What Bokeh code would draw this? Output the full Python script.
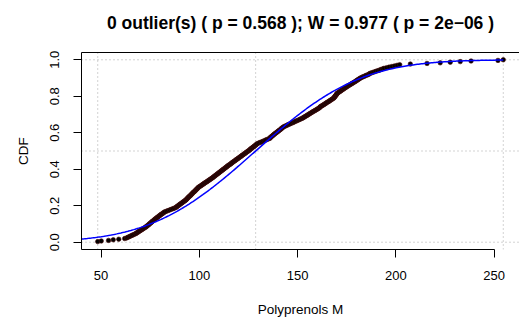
import numpy as np
from math import erf, sqrt
from bokeh.plotting import figure
from bokeh.models import LinearAxis, Span, FixedTicker, PrintfTickFormatter, Range1d
from bokeh.embed import file_html
from bokeh.resources import INLINE

# Polyprenols M sample values (read from the ECDF, sorted)
polyprenols_m = [
    48.3, 50.1, 53.8, 56.2, 59.0, 62.0,
    63.0, 63.6, 64.3, 64.9, 65.6, 66.2, 66.9, 67.6,
    68.0, 68.5, 69.0, 69.4, 69.9, 70.4, 70.9, 71.3, 71.8, 72.3, 72.8,
    73.1, 73.5, 73.9, 74.3, 74.6, 75.0, 75.3, 75.7, 76.0, 76.4, 76.8, 77.1, 77.5, 77.9,
    78.3, 78.7, 79.1, 79.5, 79.9, 80.3, 80.7, 81.2, 81.6, 82.0, 82.5,
    83.3, 84.1, 84.9, 85.7, 86.5, 87.2, 88.0,
    88.4, 88.8, 89.2, 89.6, 90.0, 90.4, 90.9, 91.3, 91.7, 92.1, 92.6, 93.0,
    93.3, 93.6, 93.9, 94.2, 94.5, 94.8, 95.2, 95.5, 95.8, 96.1, 96.4, 96.7, 97.0, 97.3,
    97.7, 98.0, 98.3, 98.6, 98.9, 99.2, 99.5,
    99.9, 100.4, 100.8, 101.3, 101.7, 102.2, 102.6, 103.1, 103.6, 104.0, 104.5, 104.9,
    105.4, 105.8, 106.3, 106.7, 107.1, 107.5,
    107.9, 108.3, 108.7, 109.1, 109.5, 109.9, 110.3, 110.7, 111.1, 111.5, 111.9, 112.3,
    112.7, 113.1, 113.5, 113.9, 114.3, 114.7, 115.1, 115.6, 116.0,
    116.4, 116.8, 117.2, 117.7, 118.1, 118.5, 118.9, 119.4, 119.8, 120.2, 120.6, 121.1,
    121.5, 121.9, 122.3, 122.8, 123.2, 123.6, 124.0, 124.5,
    124.9, 125.3, 125.7, 126.0, 126.4, 126.8, 127.2, 127.6, 128.0, 128.4, 128.8, 129.1, 129.5,
    130.2, 130.9, 131.6, 132.4, 133.1, 133.8, 134.5, 135.3, 136.0,
    136.1, 136.4, 136.8, 137.2, 137.6, 137.9, 138.3, 138.7, 139.1, 139.5, 139.9, 140.3,
    140.7, 141.1, 141.5, 141.8, 142.2, 142.6, 143.0,
    143.7, 144.4, 145.0, 145.7, 146.4, 147.1, 147.8, 148.4, 149.1, 149.8, 150.5, 151.1, 151.8, 152.5,
    153.0, 153.5, 154.0, 154.5, 155.0, 155.5, 156.0, 156.5, 157.0, 157.5, 158.0, 158.6,
    159.1, 159.6, 160.1, 160.6, 161.1, 161.4, 161.7,
    162.2, 162.7, 163.2, 163.7, 164.2, 164.6, 165.1, 165.6, 166.1, 166.5, 167.0, 167.5, 167.9, 168.4,
    168.6, 168.9, 169.1, 169.3, 169.6, 169.8, 170.0, 170.2,
    170.7, 171.1, 171.6, 172.0, 172.5, 172.9, 173.4, 173.8, 174.3, 174.7, 175.2,
    175.7, 176.2, 176.7, 177.2, 177.7, 178.2, 178.7, 179.2, 179.7, 180.1, 180.6, 181.1, 181.5, 182.0,
    182.6, 183.3, 184.0, 184.7, 185.4, 186.1, 186.6, 187.1,
    188.0, 188.9, 189.8, 190.7, 191.6, 192.4, 193.2, 194.0,
    195.3, 196.6, 198.0, 199.3, 200.7, 202.0,
    207.4, 215.9, 222.6, 227.7, 232.8, 238.3, 252.0, 254.7,
]

title_text = "0 outlier(s) ( p = 0.568 ); W = 0.977 ( p = 2e\u221206 )"
x_label = "Polyprenols M"
y_label = "CDF"
x_ticks = [50, 100, 150, 200, 250]
y_ticks = [0.0, 0.2, 0.4, 0.6, 0.8, 1.0]
ref_levels = [0.0, 0.5, 1.0]

x = np.sort(np.array(polyprenols_m, dtype=float))
n = len(x)
F = np.arange(1, n + 1) / n
mu = x.mean()
sd = x.std(ddof=1)
span_x = x.max() - x.min()
x0, x1 = x.min() - 0.04 * span_x, x.max() + 0.04 * span_x

# fitted normal CDF (mean and sd of the sample)
gx = np.linspace(x0, x.max(), 300)
gy = np.array([0.5 * (1 + erf((v - mu) / (sd * sqrt(2)))) for v in gx])

FONT = "Liberation Sans"

p = figure(width=519, height=322, x_range=Range1d(x0, x1), y_range=Range1d(-0.04, 1.04),
           output_backend="svg", toolbar_location=None, title_location=None,
           min_border_left=81, min_border_right=0, min_border_top=52, min_border_bottom=73)
p.outline_line_color = None
p.xgrid.grid_line_color = None
p.ygrid.grid_line_color = None
p.background_fill_color = "white"
p.border_fill_color = "white"

xa = p.xaxis[0]
xa.ticker = FixedTicker(ticks=x_ticks)
xa.bounds = (x0, 250)
xa.axis_label = x_label
xa.axis_label_text_font = FONT
xa.axis_label_text_font_size = "13.5px"
xa.axis_label_text_font_style = "normal"
xa.axis_label_text_color = "black"
xa.axis_label_standoff = 19
xa.major_label_text_font = FONT
xa.major_label_text_font_size = "13px"
xa.major_label_text_color = "black"
xa.major_label_standoff = 13
xa.major_tick_out = 8
xa.major_tick_in = 0
xa.minor_tick_line_color = None
xa.axis_line_color = "black"
xa.major_tick_line_color = "black"

ya = p.yaxis[0]
ya.ticker = FixedTicker(ticks=y_ticks)
ya.formatter = PrintfTickFormatter(format="%.1f")
ya.major_label_orientation = "vertical"
ya.axis_label = y_label
ya.axis_label_text_font = FONT
ya.axis_label_text_font_size = "13.5px"
ya.axis_label_text_font_style = "normal"
ya.axis_label_text_color = "black"
ya.axis_label_standoff = 17
ya.major_label_text_font = FONT
ya.major_label_text_font_size = "13px"
ya.major_label_text_color = "black"
ya.major_label_standoff = 14
ya.major_tick_out = 8
ya.major_tick_in = 0
ya.minor_tick_line_color = None
ya.axis_line_color = "black"
ya.major_tick_line_color = "black"

# top border line, carrying the chart title as its label
top = LinearAxis(ticker=FixedTicker(ticks=[]), major_label_text_font_size="0px",
                 major_tick_line_color=None, minor_tick_line_color=None,
                 major_tick_out=0, major_tick_in=0, major_label_standoff=0,
                 axis_line_color="black",
                 axis_label=title_text, axis_label_text_font=FONT,
                 axis_label_text_font_size="17.5px", axis_label_text_font_style="bold",
                 axis_label_text_color="black", axis_label_standoff=20)
p.add_layout(top, "above")

# dotted reference lines: min, mean, max of the sample; CDF 0, 0.5, 1
for loc in (x.min(), mu, x.max()):
    p.add_layout(Span(location=loc, dimension="height", line_color="#a6a6a6",
                      line_dash="1 3", line_width=1, level="underlay"))
for loc in ref_levels:
    p.add_layout(Span(location=loc, dimension="width", line_color="#a6a6a6",
                      line_dash="1 3", line_width=1, level="underlay"))

p.scatter(x, F, size=4.5, fill_color="black", line_color="#4a0c0c", line_width=0.6)
p.line(gx, gy, line_color="blue", line_width=1.5)

open("out.html", "w").write(file_html(p, INLINE))
print(mu, sd, n)
